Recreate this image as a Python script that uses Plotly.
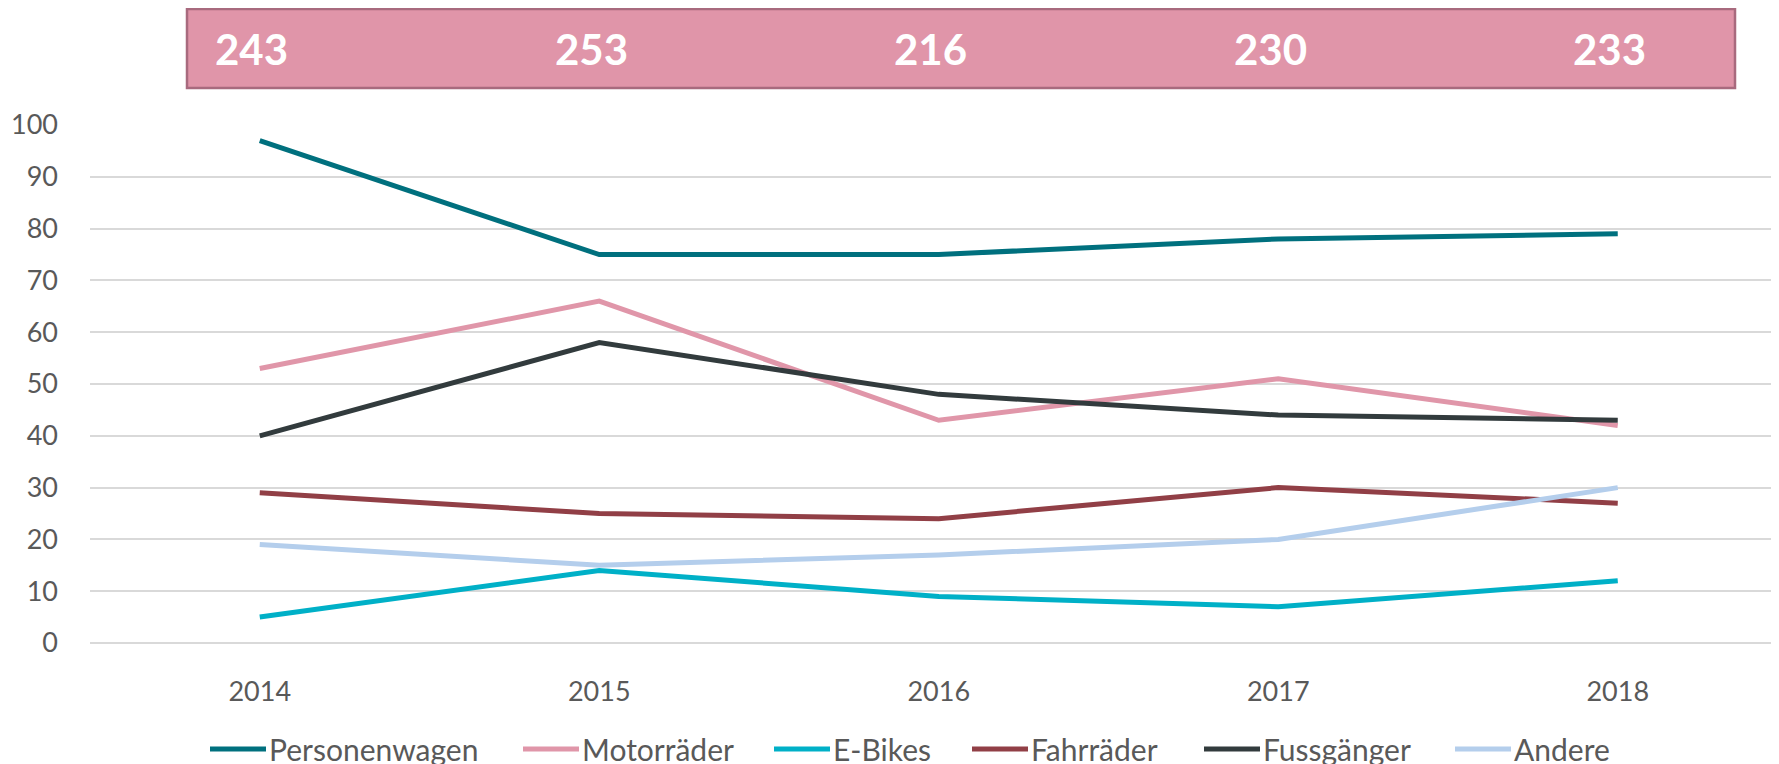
import plotly.graph_objects as go

years = [2014, 2015, 2016, 2017, 2018]
totals = [243, 253, 216, 230, 233]
series_names = ["Personenwagen", "Motorräder", "E-Bikes", "Fahrräder", "Fussgänger", "Andere"]
personenwagen = [97, 75, 75, 78, 79]
motorraeder = [53, 66, 43, 51, 42]
ebikes = [5, 14, 9, 7, 12]
fahrraeder = [29, 25, 24, 30, 27]
fussgaenger = [40, 58, 48, 44, 43]
andere = [19, 15, 17, 20, 30]
colors = ["#00707E", "#E096A9", "#00B0C7", "#913F46", "#323B3D", "#B4CEEC"]

# page offset (default body margin of the html page)
OFF = 8
W, H = 1779, 764
L, R, T = 90 - OFF, 0, 125 - OFF
B = H - (643 - OFF)
plot_w = W - L - R
plot_h = H - T - B
band = 339.5

def sx(x):
    return (x - OFF - L) / plot_w

def sy(y):
    return (H - B - (y - OFF)) / plot_h

fig = go.Figure()
for name, vals, col in zip(series_names,
                           [personenwagen, motorraeder, ebikes, fahrraeder, fussgaenger, andere],
                           colors):
    fig.add_trace(go.Scatter(x=years, y=vals, name=name, mode="lines", showlegend=False,
                             line=dict(color=col, width=5), hoverinfo="x+y+name"))

# header box with totals
fig.add_shape(type="rect", xref="paper", yref="paper",
              x0=sx(187), x1=sx(1735), y0=sy(88), y1=sy(9),
              fillcolor="#E095A9", line=dict(color="#A86A7E", width=2.5), layer="below")
for yr, t in zip(years, totals):
    fig.add_annotation(x=yr, y=sy(49), xref="x", yref="paper", text=f"<b>{t}</b>",
                       showarrow=False, xshift=-8, xanchor="center", yanchor="middle",
                       font=dict(family="Lato", size=42, color="white"))

# legend drawn manually (long line samples like the original)
leg_sym_x0 = [210, 523, 774, 972, 1204, 1455]
leg_sym_len = 56
leg_y = 749
for name, col, x0 in zip(series_names, colors, leg_sym_x0):
    fig.add_shape(type="line", xref="paper", yref="paper",
                  x0=sx(x0), x1=sx(x0 + leg_sym_len), y0=sy(leg_y), y1=sy(leg_y),
                  line=dict(color=col, width=5))
    fig.add_annotation(x=sx(x0 + leg_sym_len + 1), y=sy(leg_y), xref="paper", yref="paper",
                       text=name, showarrow=False, xanchor="left", yanchor="middle",
                       font=dict(family="Lato", size=30, color="#595959"))

fig.update_layout(
    width=W, height=H, autosize=False,
    margin=dict(l=L, r=R, t=T, b=B, pad=0),
    paper_bgcolor="white", plot_bgcolor="white",
    font=dict(family="Lato", size=27, color="#595959"),
    showlegend=False,
    xaxis=dict(range=[years[0] - 0.5, years[0] - 0.5 + plot_w / band], tickmode="array",
               tickvals=years, ticktext=[str(y) for y in years], showgrid=False,
               zeroline=False, showline=False, ticks="", ticklabelstandoff=30,
               tickfont=dict(size=27, color="#595959"), fixedrange=True),
    yaxis=dict(range=[0, 100], dtick=10, tick0=0, showgrid=True, gridcolor="#D9D9D9",
               gridwidth=1.5, zeroline=True, zerolinecolor="#D9D9D9", zerolinewidth=1.5,
               showline=False, ticks="", ticklabelstandoff=31,
               tickfont=dict(size=27, color="#595959"), fixedrange=True),
)

fig.write_html("out.html")
